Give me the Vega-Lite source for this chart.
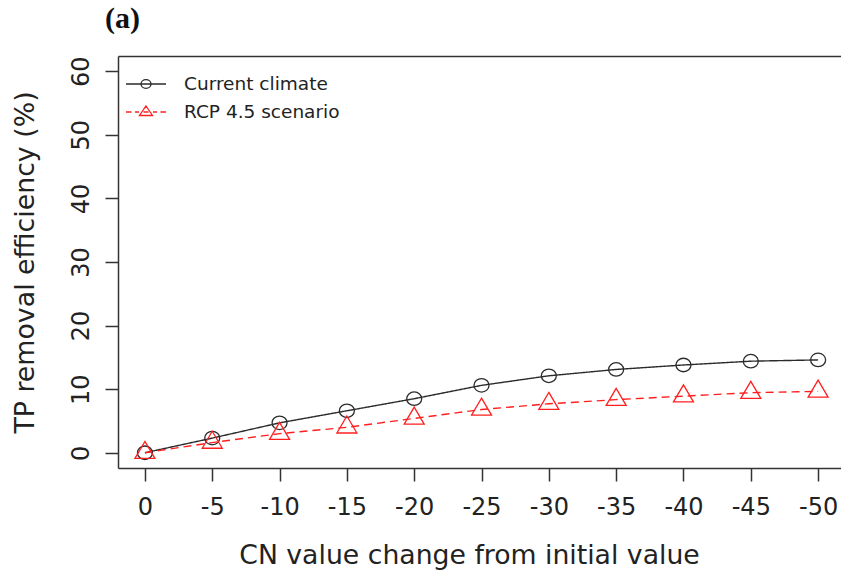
{
  "$schema": "https://vega.github.io/schema/vega-lite/v6.json",
  "autosize": "none",
  "width": 723,
  "height": 412,
  "padding": {"left": 118, "top": 56, "right": 0, "bottom": 108},
  "background": "white",
  "title": {
    "text": "(a)",
    "anchor": "start",
    "frame": "group",
    "font": "Liberation Serif",
    "fontSize": 30,
    "fontWeight": "bold",
    "color": "#111111",
    "baseline": "alphabetic",
    "offset": 25,
    "dx": -13,
    "dy": 27
  },
  "data": {
    "values": [
      {"cn": 0, "eff": 0, "series": "Current climate"},
      {"cn": -5, "eff": 2.3, "series": "Current climate"},
      {"cn": -10, "eff": 4.7, "series": "Current climate"},
      {"cn": -15, "eff": 6.6, "series": "Current climate"},
      {"cn": -20, "eff": 8.5, "series": "Current climate"},
      {"cn": -25, "eff": 10.6, "series": "Current climate"},
      {"cn": -30, "eff": 12.1, "series": "Current climate"},
      {"cn": -35, "eff": 13.1, "series": "Current climate"},
      {"cn": -40, "eff": 13.8, "series": "Current climate"},
      {"cn": -45, "eff": 14.4, "series": "Current climate"},
      {"cn": -50, "eff": 14.6, "series": "Current climate"},
      {"cn": 0, "eff": 0, "series": "RCP 4.5 scenario"},
      {"cn": -5, "eff": 1.6, "series": "RCP 4.5 scenario"},
      {"cn": -10, "eff": 3.0, "series": "RCP 4.5 scenario"},
      {"cn": -15, "eff": 4.0, "series": "RCP 4.5 scenario"},
      {"cn": -20, "eff": 5.4, "series": "RCP 4.5 scenario"},
      {"cn": -25, "eff": 6.8, "series": "RCP 4.5 scenario"},
      {"cn": -30, "eff": 7.7, "series": "RCP 4.5 scenario"},
      {"cn": -35, "eff": 8.35, "series": "RCP 4.5 scenario"},
      {"cn": -40, "eff": 8.9, "series": "RCP 4.5 scenario"},
      {"cn": -45, "eff": 9.45, "series": "RCP 4.5 scenario"},
      {"cn": -50, "eff": 9.65, "series": "RCP 4.5 scenario"}
    ]
  },
  "resolve": {"axis": {"x": "independent"}},
  "layer": [
    {
      "mark": {"type": "line", "strokeWidth": 1.4},
      "encoding": {
        "x": {
          "field": "cn",
          "type": "quantitative",
          "scale": {"domain": [2, -51.7], "nice": false, "zero": false},
          "axis": {
            "orient": "bottom",
            "values": [0, -5, -10, -15, -20, -25, -30, -35, -40, -45, -50],
            "labelExpr": "'' + datum.value",
            "tickSize": 13,
            "labelPadding": 14,
            "labelOverlap": false,
            "labelFlush": false,
            "title": "CN value change from initial value",
            "titleFontSize": 26.7,
            "titleBaseline": "top",
            "titlePadding": 23,
            "titleX": 351
          }
        },
        "y": {
          "field": "eff",
          "type": "quantitative",
          "scale": {"domain": [-2.4, 62.4], "nice": false, "zero": false},
          "axis": {
            "orient": "left",
            "values": [0, 10, 20, 30, 40, 50, 60],
            "labelAngle": -90,
            "labelAlign": "center",
            "labelBaseline": "alphabetic",
            "labelPadding": 17,
            "tickSize": 13,
            "labelOverlap": false,
            "labelFlush": false,
            "title": "TP removal efficiency (%)",
            "titleFontSize": 26.8,
            "titlePadding": 36,
            "titleBaseline": "alphabetic"
          }
        },
        "color": {
          "field": "series",
          "type": "nominal",
          "scale": {"domain": ["Current climate", "RCP 4.5 scenario"], "range": ["#2b2b2b", "#ff1f1f"]},
          "legend": {
            "orient": "none",
            "legendX": 17,
            "legendY": 17,
            "title": null,
            "direction": "vertical",
            "padding": 0,
            "symbolSize": 400,
            "symbolStrokeWidth": 1.3,
            "labelFont": "DejaVu Sans",
            "labelFontSize": 18.5,
            "labelColor": "#222222",
            "labelOffset": 27,
            "rowPadding": 7,
            "encode": {
              "symbols": {
                "update": {
                  "shape": {"signal": "datum.value === 'Current climate' ? 'M-2,0L2,0M0.5,0A0.5,0.43,0,1,1,-0.5,0A0.5,0.43,0,1,1,0.5,0' : 'M-2,0L-1.45,0M-1.1,0L-0.7,0M-0.25,0L0.25,0M0.7,0L1.1,0M1.45,0L2,0M0,-0.6L0.65,0.35L-0.65,0.35Z'"},
                  "fill": {"value": "transparent"},
                  "strokeDash": {"value": []}
                }
              }
            }
          }
        },
        "strokeDash": {
          "field": "series",
          "type": "nominal",
          "scale": {"range": [[1, 0], [8, 5]]},
          "legend": null
        }
      }
    },
    {
      "mark": {"type": "point", "filled": false, "size": 225, "strokeWidth": 1.3, "opacity": 1},
      "encoding": {
        "x": {
          "field": "cn",
          "type": "quantitative",
          "axis": {"orient": "top", "labels": false, "ticks": false, "title": null, "grid": false, "domain": true}
        },
        "y": {"field": "eff", "type": "quantitative"},
        "color": {"field": "series", "type": "nominal", "legend": null},
        "shape": {
          "field": "series",
          "type": "nominal",
          "scale": {
            "range": ["M1,0A1,0.9,0,1,1,-1,0A1,0.9,0,1,1,1,0Z", "M0,-1.511L1.333,0.756L-1.333,0.756Z"]
          },
          "legend": null
        }
      }
    }
  ],
  "config": {
    "view": {"stroke": null},
    "axis": {
      "grid": false,
      "domainColor": "#333333",
      "domainWidth": 1.5,
      "tickColor": "#333333",
      "tickWidth": 1.5,
      "labelFont": "DejaVu Sans",
      "labelFontSize": 24,
      "labelColor": "#222222",
      "titleFont": "DejaVu Sans",
      "titleFontSize": 26,
      "titleFontWeight": "normal",
      "titleColor": "#222222"
    }
  }
}
